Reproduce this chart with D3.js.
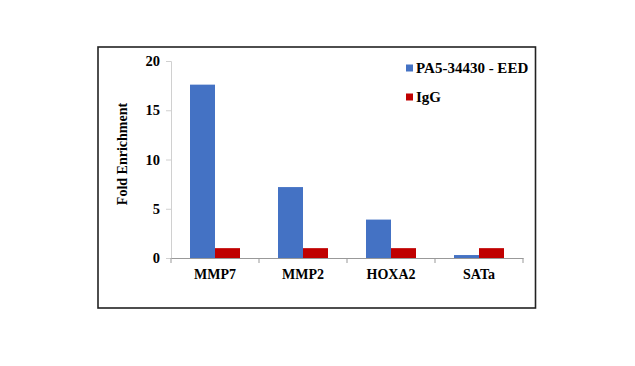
<!DOCTYPE html>
<html><head><meta charset="utf-8">
<script src="https://cdn.jsdelivr.net/npm/d3@7/dist/d3.min.js"></script>
<style>body{margin:0;background:#fff}svg{display:block}</style>
</head><body><svg id="c" width="635" height="366"></svg>
<script>
const categories = ["MMP7", "MMP2", "HOXA2", "SATa"];
const seriesNames = ["PA5-34430 - EED", "IgG"];
const eedValues = [17.6, 7.2, 3.9, 0.3];
const iggValues = [1.0, 1.0, 1.0, 1.0];
const yTicks = [0, 5, 10, 15, 20];
const colors = ["#4472C4", "#C00000"];

const svg = d3.select("#c");
const font = "'Liberation Serif','Times New Roman',serif";

svg.append("rect").attr("x", 98).attr("y", 47).attr("width", 437.5).attr("height", 261)
  .attr("fill", "#fff").attr("stroke", "#222").attr("stroke-width", 1.6);

const x = d3.scaleBand().domain(categories).range([171, 523]).padding(0);
const y = d3.scaleLinear().domain([0, 20]).range([258, 61]);
const xs = d3.scaleBand().domain(seriesNames).range([0, 50]);

const data = categories.map((c, i) => ({cat: c, vals: [eedValues[i], iggValues[i]]}));
const g = svg.append("g");
g.selectAll("g.grp").data(data).join("g").attr("class", "grp")
  .attr("transform", d => `translate(${x(d.cat) + x.bandwidth()/2 - 25},0)`)
  .selectAll("rect").data(d => d.vals.map((v, j) => ({v, j})))
  .join("rect")
  .attr("x", d => xs(seriesNames[d.j]))
  .attr("width", xs.bandwidth())
  .attr("y", d => y(d.v))
  .attr("height", d => y(0) - y(d.v))
  .attr("fill", d => colors[d.j]);

// y axis
const ya = svg.append("g").attr("transform", "translate(171,0)")
  .call(d3.axisLeft(y).tickValues(yTicks).tickSize(5).tickPadding(6));
ya.select(".domain").attr("stroke", "#d0d0d0");
ya.selectAll(".tick line").attr("stroke", "#d0d0d0");
ya.selectAll("text").attr("font-family", font).attr("font-weight", "bold").attr("font-size", 14.5).attr("fill", "#000");

// x axis
const xa = svg.append("g").attr("transform", "translate(0,258)")
  .call(d3.axisBottom(x).tickSize(0).tickPadding(11));
xa.select(".domain").attr("stroke", "#999");
xa.selectAll("text").attr("font-family", font).attr("font-weight", "bold").attr("font-size", 14).attr("fill", "#000");
svg.append("g").selectAll("line").data(x.domain().map(c => x(c)).concat([x.range()[1]]))
  .join("line").attr("x1", d => d).attr("x2", d => d).attr("y1", 258).attr("y2", 263)
  .attr("stroke", "#999");

// y label
svg.append("text").attr("transform", "translate(127,154) rotate(-90)")
  .attr("text-anchor", "middle").attr("font-family", font).attr("font-weight", "bold")
  .attr("font-size", 14).text("Fold Enrichment");

// legend
const lg = svg.append("g");
seriesNames.forEach((n, i) => {
  const yy = 68 + i * 29;
  lg.append("rect").attr("x", 406).attr("y", yy - 3.5).attr("width", 7).attr("height", 7).attr("fill", colors[i]);
  lg.append("text").attr("x", 416).attr("y", yy + 5).attr("font-family", font).attr("font-weight", "bold")
    .attr("font-size", 15).text(n);
});
</script></body></html>
